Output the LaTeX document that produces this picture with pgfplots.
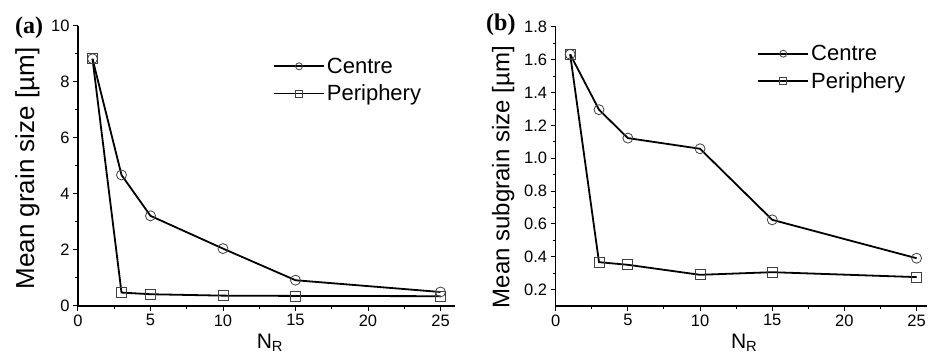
\documentclass[border=0pt]{standalone}
\usepackage{pgfplots}
\pgfplotsset{compat=1.18}
\usepackage{fontspec}
\setmainfont{Liberation Sans}
\newfontfamily\serifb{Liberation Serif}
\pgfplotsset{
  myax/.style={
    scale only axis,
    axis lines=left,
    axis line style={-, line width=1.2pt},
    tick align=outside,
    major tick length=5pt,
    minor tick length=3pt,
    every tick/.style={black, line width=1pt},
    minor x tick num=1,
    minor y tick num=1,
    xmin=0,
    xtick={0,5,10,15,20,25},
    tick label style={font=\fontsize{16.5}{18}\selectfont},
    /pgf/number format/assume math mode=true,
    xlabel={N\textsubscript{R}},
    xlabel style={font=\fontsize{21}{24}\selectfont, anchor=north, inner sep=0pt},
    ylabel style={anchor=north, inner sep=0pt},
    legend style={draw=none, fill=none, font=\fontsize{22}{26}\selectfont, inner sep=0pt,
      anchor=west, cells={anchor=west}, row sep=6pt},
    legend image code/.code={\draw[line width=1.8pt, mark repeat=2,mark phase=2,mark size=3.5pt] plot coordinates {(0pt,0pt) (25pt,0pt) (50pt,0pt)};},
    every axis plot/.append style={black, line width=1.8pt},
  },
  cen/.style={mark=o, mark size=5pt, mark options={fill=white, draw=black!75, line width=0.8pt}},
  per/.style={mark=square, mark size=5pt, mark options={fill=white, draw=black!75, line width=0.8pt}},
}
\begin{document}
\begin{tikzpicture}
\useasboundingbox (-78pt,-52pt) rectangle (856pt,306pt);
\begin{axis}[myax,
  at={(0pt,0pt)}, anchor=south west,
  width=377pt, height=280pt,
  xmax=26, ymin=0, ymax=10,
  ytick={0,2,4,6,8,10},
  ylabel={Mean grain size [µm]},
  ylabel style={font=\fontsize{26}{30}\selectfont, at={(axis description cs:-0.167,0.491)}},
  xlabel style={at={(axis description cs:0.509,-0.1)}},
  legend style={at={(axis description cs:0.517,0.807)}},
]
\addplot[cen] coordinates {(1,8.83) (3,4.68) (5,3.22) (10,2.05) (15,0.92) (25,0.5)};
\addlegendentry{Centre}
\addplot[per] coordinates {(1,8.83) (3,0.48) (5,0.42) (10,0.37) (15,0.36) (25,0.35)};
\addlegendentry{Periphery}
\end{axis}
\begin{axis}[myax,
  at={(477.7pt,0pt)}, anchor=south west,
  width=371pt, height=279pt,
  xmax=25.7, ymin=0.1, ymax=1.8,
  ytick={0.2,0.4,0.6,0.8,1.0,1.2,1.4,1.6,1.8},
  yticklabel style={/pgf/number format/.cd, fixed, fixed zerofill, precision=1},
  ylabel={Mean subgrain size [µm]},
  ylabel style={font=\fontsize{24}{28}\selectfont, at={(axis description cs:-0.172,0.462)}},
  xlabel style={at={(axis description cs:0.508,-0.101)}},
  legend style={at={(axis description cs:0.543,0.855)}},
]
\addplot[cen] coordinates {(1,1.634) (3,1.296) (5,1.123) (10,1.058) (15,0.625) (25,0.391)};
\addlegendentry{Centre}
\addplot[per] coordinates {(1,1.634) (3,0.367) (5,0.351) (10,0.29) (15,0.306) (25,0.276)};
\addlegendentry{Periphery}
\end{axis}
\node[anchor=west, inner sep=0pt, font=\serifb\bfseries\fontsize{24}{26}\selectfont] at (-63pt,278pt) {(a)};
\node[anchor=west, inner sep=0pt, font=\serifb\bfseries\fontsize{24}{26}\selectfont] at (408pt,281pt) {(b)};
\end{tikzpicture}
\end{document}
